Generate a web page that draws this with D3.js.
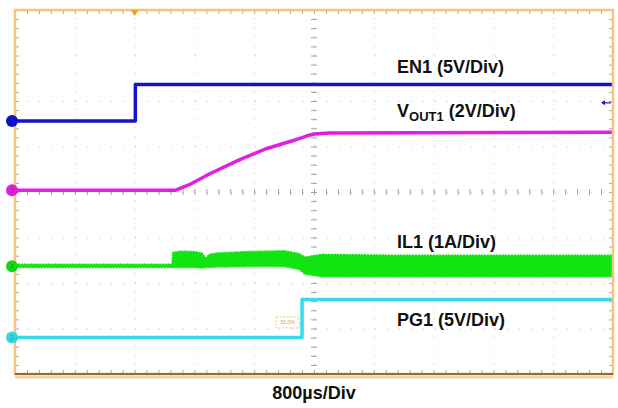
<!DOCTYPE html>
<html>
<head>
<meta charset="utf-8">
<script src="https://cdn.jsdelivr.net/npm/d3@7"></script>
<style>
  html, body { margin: 0; padding: 0; background: #fff; }
  svg { display: block; }
  .label { font-family: Arial, 'Liberation Sans', sans-serif; font-weight: bold; fill: #111; }
</style>
</head>
<body>
<div id="chart"></div>
<script>
// time in ms (800us/div, trigger 2 div from left)
var timeTicks = [-1.6, -0.8, 0, 0.8, 1.6, 2.4, 3.2, 4.0, 4.8, 5.6, 6.4];
var divTicks = [-4, -3, -2, -1, 0, 1, 2, 3, 4];

// channel settings: name, units per division, ground position (div)
var chNames = ['EN1 (5V/Div)', 'VOUT1 (2V/Div)', 'IL1 (1A/Div)', 'PG1 (5V/Div)'];
var chPerDiv = [5, 2, 1, 5];
var chOffset = [1.56, 0.04, -1.63, -3.2];

var enTime = [-1.6, 0.01, 0.01, 6.4];
var enVolts = [0, 0, 4, 4];

var voutTime = [-1.6, 0.55, 0.75, 1.0, 1.4, 1.75, 2.1, 2.3, 2.4, 2.6, 6.4];
var voutVolts = [0, 0, 0.27, 0.71, 1.33, 1.81, 2.16, 2.38, 2.47, 2.51, 2.55];

var ilTime = [-1.6, 0.5, 0.51, 0.6, 0.8, 0.9, 0.95, 1.0, 1.1, 1.5, 2.0, 2.2, 2.28, 2.5, 3.5, 6.4];
var ilUpper = [0.04, 0.04, 0.3, 0.33, 0.32, 0.29, 0.18, 0.26, 0.29, 0.32, 0.34, 0.28, 0.2, 0.26, 0.24, 0.24];
var ilLower = [-0.03, -0.03, -0.03, -0.03, -0.03, -0.04, -0.03, -0.03, -0.02, -0.01, -0.01, -0.07, -0.18, -0.23, -0.23, -0.23];

var pgTime = [-1.6, 2.24, 2.24, 6.4];
var pgVolts = [0, 0, 4.2, 4.2];

var vWidth = 618,
  vHeight = 408,
  margin = { top: 10, right: 5, bottom: 34, left: 15 },
  width = vWidth - margin.left - margin.right,
  height = vHeight - margin.top - margin.bottom;

var svg = d3
  .select('#chart')
  .append('svg')
  .attr('width', vWidth)
  .attr('height', vHeight);

var g = svg
  .append('g')
  .attr('transform', 'translate(' + margin.left + ',' + margin.top + ')');

var x = d3.scaleLinear().domain([-1.6, 6.4]).range([0, width]);
var y = d3.scaleLinear().domain([-4, 4]).range([height, 0]);

function chY(ch, v) {
  return y(chOffset[ch] + v / chPerDiv[ch]);
}

// minor tick values (1/5 division)
var minorX = d3.range(0, 51).map(function(i) { return -1.6 + i * 0.16; });
var minorY = d3.range(0, 41).map(function(i) { return -4 + i * 0.2; });

// dotted grid
g.append('g')
  .attr('class', 'grid-x')
  .attr('transform', 'translate(0,' + height + ')')
  .call(d3.axisBottom(x).tickValues(timeTicks).tickSize(-height).tickFormat(''))
  .call(function(a) { a.select('.domain').remove(); })
  .selectAll('line')
  .attr('stroke', '#c4c4c4')
  .attr('stroke-dasharray', '1,8.1');

g.append('g')
  .attr('class', 'grid-y')
  .call(d3.axisLeft(y).tickValues(divTicks).tickSize(-width).tickFormat(''))
  .call(function(a) { a.select('.domain').remove(); })
  .selectAll('line')
  .attr('stroke', '#c4c4c4')
  .attr('stroke-dasharray', '1,11');

// center cross ticks
g.append('g')
  .attr('transform', 'translate(' + (x(2.4) - 3) + ',0)')
  .call(d3.axisRight(y).tickValues(minorY).tickSize(6).tickFormat(''))
  .call(function(a) { a.select('.domain').remove(); })
  .selectAll('line')
  .attr('stroke', '#a0a0a0');

g.append('g')
  .attr('transform', 'translate(0,' + (y(0) - 3) + ')')
  .call(d3.axisBottom(x).tickValues(minorX).tickSize(6).tickFormat(''))
  .call(function(a) { a.select('.domain').remove(); })
  .selectAll('line')
  .attr('stroke', '#a0a0a0');

// frame minor ticks
g.append('g')
  .call(d3.axisBottom(x).tickValues(minorX).tickSize(4).tickFormat(''))
  .call(function(a) { a.select('.domain').remove(); })
  .selectAll('line').attr('stroke', '#a8a8a8');
g.append('g')
  .attr('transform', 'translate(0,' + height + ')')
  .call(d3.axisTop(x).tickValues(minorX).tickSize(4).tickFormat(''))
  .call(function(a) { a.select('.domain').remove(); })
  .selectAll('line').attr('stroke', '#a8a8a8');
g.append('g')
  .call(d3.axisRight(y).tickValues(minorY).tickSize(4).tickFormat(''))
  .call(function(a) { a.select('.domain').remove(); })
  .selectAll('line').attr('stroke', '#a8a8a8');
g.append('g')
  .attr('transform', 'translate(' + width + ',0)')
  .call(d3.axisLeft(y).tickValues(minorY).tickSize(4).tickFormat(''))
  .call(function(a) { a.select('.domain').remove(); })
  .selectAll('line').attr('stroke', '#a8a8a8');

// traces
var line = d3.line();

function trace(ch, times, vals, color) {
  g.append('path')
    .attr('d', line(times.map(function(t, i) { return [x(t), chY(ch, vals[i])]; })))
    .attr('fill', 'none')
    .attr('stroke', color)
    .attr('stroke-width', 3.5)
    .attr('stroke-linejoin', 'round');
}

trace(0, enTime, enVolts, '#1414c8');
trace(1, voutTime, voutVolts, '#e21ee2');

var ilArea = d3
  .area()
  .x(function(d) { return x(d[0]); })
  .y0(function(d) { return chY(2, d[2]); })
  .y1(function(d) { return chY(2, d[1]); });

g.append('path')
  .datum(ilTime.map(function(t, i) { return [t, ilUpper[i], ilLower[i]]; }))
  .attr('d', ilArea)
  .attr('fill', '#12e412')
  .attr('stroke', '#12e412')
  .attr('stroke-width', 1.5)
  .attr('stroke-dasharray', '2,1');

trace(3, pgTime, pgVolts, '#34dcec');

// 50% marker on PG edge
g.append('rect')
  .attr('x', x(2.24) - 26)
  .attr('y', chY(3, 1.5) - 7)
  .attr('width', 23)
  .attr('height', 11)
  .attr('fill', '#fff')
  .attr('stroke', '#f0b860')
  .attr('stroke-width', 0.8)
  .attr('stroke-dasharray', '2,1.5');
g.append('text')
  .attr('x', x(2.24) - 14.5)
  .attr('y', chY(3, 1.5))
  .attr('text-anchor', 'middle')
  .attr('fill', '#e0a040')
  .style('font-family', 'Arial, sans-serif')
  .style('font-size', '5px')
  .text('50.0%');

// frame
g.append('rect')
  .attr('width', width)
  .attr('height', height)
  .attr('fill', 'none')
  .attr('stroke', '#f2c47c')
  .attr('stroke-width', 2.5);
g.append('line')
  .attr('x1', 0)
  .attr('x2', width)
  .attr('y1', height + 3)
  .attr('y2', height + 3)
  .attr('stroke', '#f3d29c')
  .attr('stroke-width', 3);
g.append('line')
  .attr('x1', 0)
  .attr('x2', width)
  .attr('y1', height)
  .attr('y2', height)
  .attr('stroke', '#5e5040')
  .attr('stroke-width', 1.5);

// trigger position marker
g.append('path')
  .attr('d', 'M' + (x(0) - 4) + ',0 L' + (x(0) + 4) + ',0 L' + x(0) + ',6 Z')
  .attr('fill', '#f0a030');

// trigger level marker
g.append('path')
  .attr('d', 'M' + (width - 2) + ',' + chY(0, 2) + ' L' + (width - 9) + ',' + chY(0, 2))
  .attr('stroke', '#1414c8')
  .attr('stroke-width', 1.2);
g.append('path')
  .attr('d', 'M' + (width - 12) + ',' + chY(0, 2) + ' l4,-2.5 l0,5 Z')
  .attr('fill', '#1414c8');

// channel ground markers
var markerColors = ['#1010c8', '#e01ee0', '#12d812', '#34d4e4'];
var markerText = ['1', '2', '4', '2'];
[0, 1, 2, 3].forEach(function(ch) {
  svg.append('circle')
    .attr('cx', margin.left - 3)
    .attr('cy', margin.top + chY(ch, 0))
    .attr('r', 6)
    .attr('fill', markerColors[ch]);
  svg.append('text')
    .attr('x', margin.left - 3)
    .attr('y', margin.top + chY(ch, 0) + 2.5)
    .attr('text-anchor', 'middle')
    .attr('fill', '#333')
    .attr('fill-opacity', 0.45)
    .style('font-family', 'Arial, sans-serif')
    .style('font-size', '7px')
    .text(markerText[ch]);
});

// channel labels
var labelPos = [[397, 73], [397, 117], [397, 248], [397, 326]];
chNames.forEach(function(name, i) {
  var t = svg.append('text')
    .attr('class', 'label')
    .attr('x', labelPos[i][0])
    .attr('y', labelPos[i][1])
    .style('font-size', '18px');
  if (name.indexOf('VOUT1') === 0) {
    t.append('tspan').text('V');
    t.append('tspan').attr('dy', 4).style('font-size', '13px').text('OUT1');
    t.append('tspan').attr('dy', -4).text(name.slice(5));
  } else {
    t.text(name);
  }
});

svg.append('text')
  .attr('class', 'label')
  .attr('x', margin.left + x(2.4))
  .attr('y', 399)
  .attr('text-anchor', 'middle')
  .style('font-size', '18px')
  .text('800µs/Div');
</script>
</body>
</html>
